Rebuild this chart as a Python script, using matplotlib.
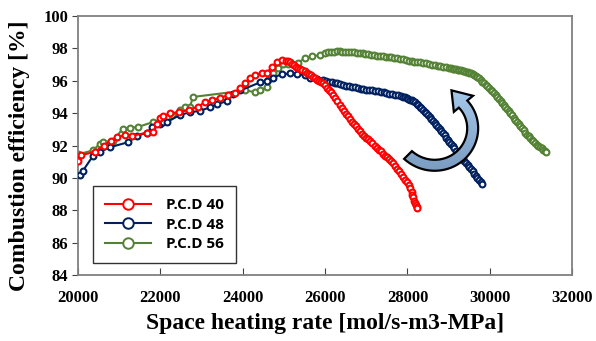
import numpy as np
import matplotlib.pyplot as plt
from matplotlib.patches import Polygon
from matplotlib.colors import LinearSegmentedColormap

# P.C.D 40
x40 = [20000, 20060, 20400, 20620, 20800, 20950, 21140, 21310, 21680, 21820,
       21920, 21990, 22070, 22240, 22450, 22700, 22920, 23090, 23250, 23450,
       23640, 23810, 23940, 24060, 24180, 24300, 24470, 24590, 24710, 24830,
       24950,
       25050, 25100, 25150, 25200, 25250, 25300, 25350, 25400, 25450, 25500,
       25550, 25600, 25650, 25700, 25750, 25800, 25850, 25900, 25950, 26000,
       26050, 26100, 26150, 26200, 26250, 26300, 26350, 26400, 26450, 26500,
       26550, 26600, 26650, 26700, 26750, 26800, 26850, 26900, 26950, 27000,
       27050, 27100, 27150, 27200, 27250, 27300, 27350, 27400, 27450, 27500,
       27550, 27600, 27650, 27700, 27750, 27800, 27850, 27900, 27950, 28000,
       28040, 28070, 28100, 28120, 28140, 28160, 28180, 28200, 28220, 28230]
y40 = [91.05, 91.4, 91.6, 92.0, 92.3, 92.5, 92.65, 92.6, 92.8, 92.85,
       93.3, 93.7, 93.8, 94.0, 94.05, 94.2, 94.4, 94.7, 94.8, 94.95,
       95.1, 95.25, 95.55, 95.85, 96.15, 96.35, 96.5, 96.5, 96.85, 97.15,
       97.3,
       97.25, 97.2, 97.15, 97.05, 96.97, 96.88, 96.8, 96.72, 96.65, 96.58,
       96.5, 96.42, 96.33, 96.24, 96.15, 96.06, 95.99, 95.92, 95.85, 95.72,
       95.58, 95.43, 95.3, 95.15, 94.95, 94.74, 94.53, 94.33, 94.15, 93.97,
       93.8, 93.63, 93.48, 93.35, 93.22, 93.05, 92.87, 92.72, 92.59, 92.47,
       92.38, 92.28, 92.13, 91.98, 91.85, 91.75, 91.64, 91.5, 91.38, 91.27,
       91.16, 91.04, 90.9, 90.72, 90.57, 90.42, 90.24, 90.05, 89.9, 89.72,
       89.55, 89.35, 89.1, 88.95, 88.8, 88.6, 88.45, 88.32, 88.2, 88.15]

# P.C.D 48
x48 = [20050, 20120, 20360, 20530, 20780, 21210, 21430, 21680, 21800, 21990,
       22070, 22160, 22480, 22720, 22960, 23200, 23380, 23620, 23760, 23940,
       24420, 24590, 24740, 24950, 25150, 25320, 25500, 25640, 25800,
       25950, 26020, 26090, 26160, 26230, 26300, 26370, 26440, 26510, 26580,
       26650, 26720, 26790, 26860, 26930, 27000, 27070, 27140, 27210, 27280,
       27350, 27420, 27490, 27560, 27630, 27700, 27770, 27840, 27900, 27940,
       27980, 28020, 28060, 28100, 28140, 28180, 28220, 28260, 28300, 28340,
       28380, 28420, 28460, 28500, 28540, 28580, 28620, 28660, 28700, 28740,
       28780, 28820, 28860, 28900, 28940, 28980, 29020, 29060, 29100, 29140,
       29180, 29220, 29260, 29300, 29340, 29380, 29420, 29460, 29500, 29540,
       29580, 29620, 29660, 29700, 29740, 29780, 29820]
y48 = [90.15, 90.45, 91.35, 91.6, 91.9, 92.2, 92.6, 92.8, 93.15, 93.3,
       93.45, 93.45, 93.9, 94.05, 94.15, 94.35, 94.55, 94.75, 95.2, 95.4,
       95.9, 96.0, 96.2, 96.4, 96.45, 96.4, 96.35, 96.2, 96.1,
       96.05, 96.0, 95.95, 95.92, 95.88, 95.84, 95.79, 95.74, 95.7, 95.66,
       95.62, 95.59, 95.56, 95.52, 95.49, 95.46, 95.44, 95.41, 95.38, 95.34,
       95.31, 95.28, 95.25, 95.21, 95.17, 95.14, 95.1, 95.05, 95.01, 94.97,
       94.93, 94.89, 94.84, 94.79, 94.73, 94.66, 94.58, 94.5, 94.4, 94.3,
       94.2, 94.1, 93.99, 93.88, 93.76, 93.64, 93.52, 93.4, 93.27, 93.15,
       93.02, 92.89, 92.75, 92.62, 92.49, 92.35, 92.22, 92.08, 91.95, 91.82,
       91.68, 91.55, 91.42, 91.28, 91.15, 91.03, 90.92, 90.8, 90.67, 90.54,
       90.4, 90.27, 90.14, 90.0, 89.87, 89.73, 89.6]

# P.C.D 56
x56 = [20000, 20360, 20530, 20610, 20850, 21090, 21260, 21460, 21820, 22160,
       22280, 22480, 22600, 22720, 22790, 24060, 24300, 24420, 24590, 24620,
       24740, 24860, 24980, 25100, 25340, 25510, 25680, 25880,
       26000, 26070, 26140, 26210, 26280, 26350, 26420, 26490, 26560, 26630,
       26700, 26770, 26840, 26910, 26980, 27050, 27120, 27190, 27260, 27330,
       27400, 27470, 27540, 27610, 27680, 27750, 27820, 27890, 27960, 28030,
       28100, 28170, 28240, 28310, 28380, 28450, 28520, 28590, 28660, 28730,
       28800, 28870, 28940, 29010, 29060, 29100, 29140, 29180, 29220, 29260,
       29300, 29340, 29380, 29420, 29460, 29500, 29540, 29580, 29620, 29660,
       29700, 29740, 29780, 29820, 29860, 29900, 29940, 29980, 30020, 30060,
       30100, 30140, 30180, 30220, 30260, 30300, 30340, 30380, 30420, 30460,
       30500, 30540, 30580, 30620, 30660, 30700, 30740, 30780, 30820, 30860,
       30900, 30940, 30980, 31020, 31060, 31100, 31140, 31180, 31220, 31260,
       31300, 31340, 31370]
y56 = [91.45, 91.7, 92.1, 92.2, 92.3, 93.05, 93.1, 93.15, 93.45, 93.75,
       93.9, 94.2, 94.4, 94.4, 95.0, 95.4, 95.3, 95.4, 95.6, 96.05,
       96.5, 96.8, 97.05, 97.05, 97.1, 97.4, 97.5, 97.6,
       97.7, 97.75, 97.78, 97.8, 97.82, 97.81, 97.8, 97.78, 97.77, 97.76,
       97.75, 97.73, 97.71, 97.7, 97.67, 97.64, 97.61, 97.59, 97.56, 97.54,
       97.52, 97.49, 97.47, 97.44, 97.41, 97.38, 97.35, 97.32, 97.28, 97.24,
       97.2, 97.18, 97.15, 97.13, 97.11, 97.08, 97.04, 97.0, 96.97, 96.94,
       96.9, 96.86, 96.83, 96.8, 96.77, 96.75, 96.73, 96.71, 96.69, 96.67,
       96.64, 96.61, 96.59, 96.56, 96.53, 96.5, 96.45, 96.41, 96.36, 96.3,
       96.23, 96.15, 96.05, 95.95, 95.85, 95.75, 95.65, 95.55, 95.45, 95.35,
       95.24, 95.12, 95.01, 94.89, 94.77, 94.64, 94.52, 94.4, 94.27, 94.13,
       94.0, 93.87, 93.73, 93.6, 93.47, 93.33, 93.2, 93.07, 92.93, 92.8,
       92.68, 92.56, 92.45, 92.35, 92.25, 92.15, 92.05, 91.97, 91.9, 91.82,
       91.75, 91.65, 91.6]

labels = ['P.C.D 40', 'P.C.D 48', 'P.C.D 56']
colors = ['#ff0000', '#002060', '#548235']

fig = plt.figure(figsize=(5.96, 3.41), dpi=100)
ax = fig.add_axes([0.131, 0.1935, 0.829, 0.7595])

series = [(x40, y40), (x48, y48), (x56, y56)]
zs = [4, 3, 2]
handles = []
for (xs, ys), lab, c, z in zip(series, labels, colors, zs):
    h, = ax.plot(xs, ys, '-o', color=c, lw=1.5, ms=4.2, mew=1.5, mfc='white', mec=c,
                 label=lab, zorder=z)
    handles.append(h)

ax.set_xlim(20000, 32000)
ax.set_ylim(84, 100)
ax.set_xticks(np.arange(20000, 32001, 2000))
ax.set_yticks(np.arange(84, 101, 2))
for s in ax.spines.values():
    s.set_color('#808080')
    s.set_linewidth(1.3)
ax.tick_params(axis='x', direction='in', length=5, color='#404040', pad=11)
ax.tick_params(axis='y', direction='out', length=4, color='#404040', pad=3)
for t in ax.get_xticklabels() + ax.get_yticklabels():
    t.set_fontfamily('Liberation Serif')
    t.set_fontweight('bold')
    t.set_fontsize(12)

ax.set_xlabel('Space heating rate [mol/s-m3-MPa]', family='Liberation Serif',
              fontweight='bold', fontsize=17, labelpad=5)
ax.set_ylabel('Combustion efficiency [%]', family='Liberation Serif',
              fontweight='bold', fontsize=17)
ax.yaxis.set_label_coords(-0.097, 0.46)

leg = ax.legend(handles=handles, loc='lower left', bbox_to_anchor=(0.03, 0.046),
                borderaxespad=0,
                prop={'family': 'Open Sans', 'weight': 'bold', 'size': 11},
                frameon=True, fancybox=False, edgecolor='black', handlelength=3.0,
                markerscale=1.8, labelspacing=0.35, borderpad=0.8, handletextpad=1.0)
leg.get_frame().set_linewidth(1.0)
for h in leg.legend_handles:
    h.set_markeredgewidth(1.4)

# curved arrow, drawn in pixel coordinates on an overlay
ov = fig.add_axes([0, 0, 1, 1], facecolor='none')
ov.set_xlim(0, 596)
ov.set_ylim(341, 0)
ov.axis('off')

cx, cy = 437.0, 126.0
th = np.radians(np.linspace(135, -40, 80))
r = np.linspace(41, 34, 80)
mx = cx + r * np.cos(th)
my = cy + r * np.sin(th)
hw = 5.5
outer = np.c_[cx + (r + hw) * np.cos(th), cy + (r + hw) * np.sin(th)]
inner = np.c_[cx + (r - hw) * np.cos(th), cy + (r - hw) * np.sin(th)]
tb = th[-1]
base = np.array([mx[-1], my[-1]])
rad = np.array([np.cos(tb), np.sin(tb)])
tang = np.array([np.sin(tb), -np.cos(tb)])
tip = base + 18 * tang
b1 = base + 13 * rad
b2 = base - 12 * rad
pts = np.vstack([outer, b1, tip, b2, inner[::-1]])
poly = Polygon(pts, closed=True, facecolor='none', edgecolor='black', lw=1.6, zorder=6)
ov.add_patch(poly)
grad = np.linspace(0, 1, 100)[:, None]
cm = LinearSegmentedColormap.from_list('arr', ['#a9cdef', '#7a9ac0'])
im = ov.imshow(grad, cmap=cm, extent=(400, 490, 175, 80), aspect='auto', zorder=5)
clip = Polygon(pts, closed=True, transform=ov.transData)
im.set_clip_path(clip)

fig.savefig('out.png', dpi=100)
